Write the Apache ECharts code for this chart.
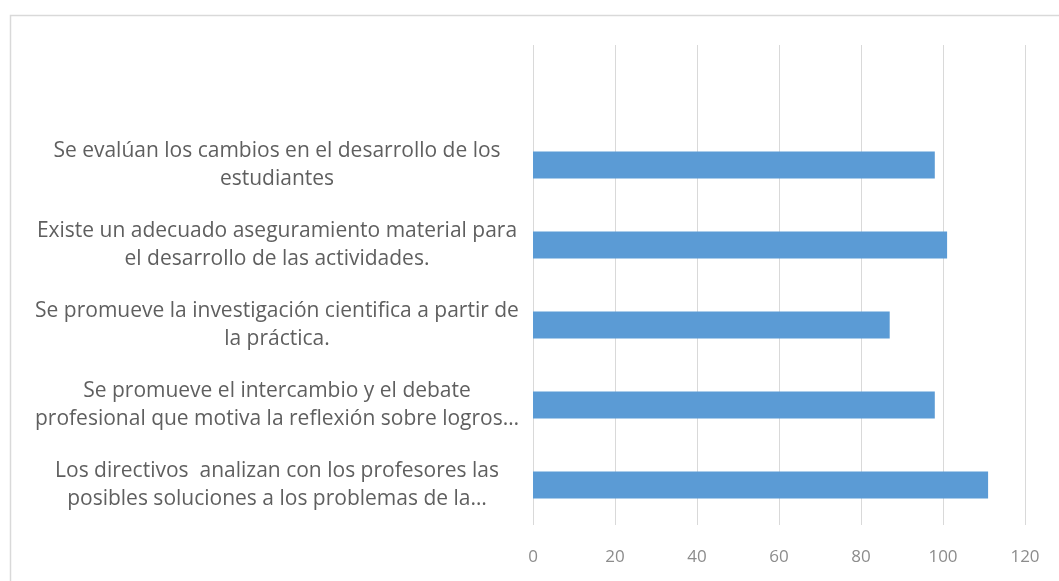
<!DOCTYPE html>
<html>
<head>
<meta charset="utf-8">
<script src="https://cdn.jsdelivr.net/npm/echarts@6/dist/echarts.min.js"></script>
<style>html,body{margin:0;padding:0;background:#fff}#c{width:1059px;height:581px}</style>
</head>
<body>
<div id="c"></div>
<script>
// categories listed bottom to top; the top row is empty in the reference
const categories = [
  "Los directivos  analizan con los profesores las\nposibles soluciones a los problemas de la…",
  "Se promueve el intercambio y el debate\nprofesional que motiva la reflexión sobre logros…",
  "Se promueve la investigación cientifica a partir de\nla práctica.",
  "Existe un adecuado aseguramiento material para\nel desarrollo de las actividades.",
  "Se evalúan los cambios en el desarrollo de los\nestudiantes",
  ""
];
const values = [111, 98, 87, 101, 98, null];
const xTicks = [0, 20, 40, 60, 80, 100, 120];

const chart = echarts.init(document.getElementById('c'));
chart.setOption({
  animation: false,
  backgroundColor: '#fff',
  graphic: [{
    type: 'rect', left: 8, top: 13,
    shape: { width: 1100, height: 620 },
    style: { fill: 'none', stroke: '#d9d9d9', lineWidth: 1.5 },
    silent: true
  }],
  grid: { left: 533, right: 34, top: 45, bottom: 56, containLabel: false },
  xAxis: {
    type: 'value', min: xTicks[0], max: xTicks[xTicks.length - 1], interval: 20,
    axisLine: { show: false }, axisTick: { show: false },
    splitLine: { show: true, lineStyle: { color: '#d9d9d9', width: 1 } },
    axisLabel: { color: '#8c8c8c', fontSize: 17, fontFamily: 'Open Sans', margin: 24 }
  },
  yAxis: {
    type: 'category', data: categories,
    axisLine: { show: false }, axisTick: { show: false },
    axisLabel: { color: '#5f5f5f', fontSize: 21, fontFamily: 'Open Sans', align: 'center', margin: 256, lineHeight: 28 }
  },
  series: [{
    type: 'bar', data: values, barWidth: 27,
    itemStyle: { color: '#5b9bd5' }
  }]
});
</script>
</body>
</html>
